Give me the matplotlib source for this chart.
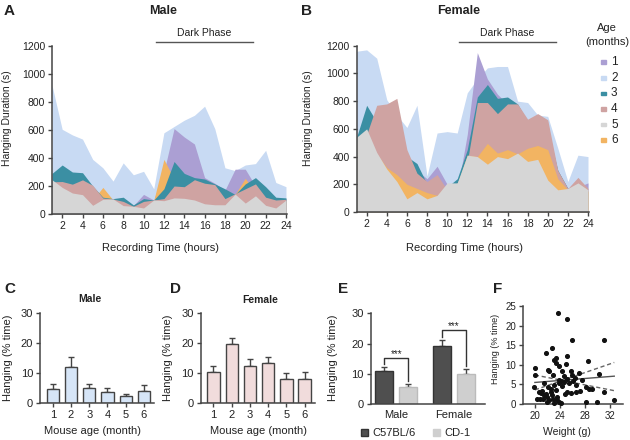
import numpy as np
import matplotlib
matplotlib.use('Agg')
import matplotlib.pyplot as plt
from matplotlib.patches import Rectangle, Patch

plt.rcParams['font.family'] = ['Liberation Sans', 'DejaVu Sans']

W, H = 630, 440

hours = list(range(1, 25))
ages = ['1', '2', '3', '4', '5', '6']
age_colors = {'1': '#ab9fd3', '2': '#c8daf3', '3': '#3b8fa3', '4': '#cfa3a2', '5': '#d6d6d6', '6': '#f2b462'}

# panel A, male, hanging duration (s) per hour
male_1 = [200, 200, 190, 180, 150, 110, 100, 100, 60, 140, 100, 300, 610, 550, 500, 260, 220, 170, 320, 320, 200, 150, 110, 110]
male_2 = [920, 605, 565, 535, 390, 330, 235, 365, 280, 305, 180, 580, 625, 670, 705, 770, 610, 330, 310, 350, 360, 455, 225, 195]
male_3 = [290, 350, 300, 295, 200, 120, 110, 120, 65, 110, 100, 180, 375, 290, 260, 250, 215, 180, 140, 215, 260, 195, 120, 115]
male_4 = [230, 232, 213, 244, 205, 114, 107, 90, 55, 90, 100, 110, 200, 195, 245, 220, 210, 110, 145, 180, 215, 120, 100, 105]
male_5 = [245, 190, 150, 138, 62, 105, 107, 60, 55, 43, 100, 95, 115, 112, 100, 73, 66, 66, 142, 78, 130, 62, 43, 100]
male_6 = [200, 180, 140, 130, 100, 190, 100, 55, 50, 40, 95, 390, 250, 280, 240, 150, 100, 100, 140, 255, 150, 90, 60, 95]

# panel B, female
female_1 = [400, 420, 400, 380, 350, 320, 300, 240, 330, 200, 150, 560, 1150, 960, 850, 780, 700, 600, 600, 550, 300, 170, 180, 210]
female_2 = [1160, 1170, 1110, 810, 700, 610, 770, 260, 570, 580, 570, 860, 960, 1040, 1050, 1050, 800, 790, 700, 690, 460, 220, 410, 400]
female_3 = [540, 770, 650, 600, 500, 400, 350, 200, 200, 180, 240, 450, 830, 920, 820, 830, 780, 650, 650, 600, 300, 170, 200, 150]
female_4 = [400, 560, 770, 780, 820, 450, 280, 220, 270, 160, 210, 360, 790, 790, 710, 780, 780, 670, 710, 665, 300, 170, 250, 170]
female_5 = [540, 600, 430, 310, 220, 95, 140, 95, 120, 210, 210, 410, 400, 345, 400, 385, 425, 365, 380, 230, 160, 170, 210, 160]
female_6 = [500, 550, 420, 320, 270, 200, 170, 140, 120, 200, 200, 410, 400, 495, 425, 450, 420, 460, 480, 450, 240, 160, 200, 150]

male_series = {'1': male_1, '2': male_2, '3': male_3, '4': male_4, '5': male_5, '6': male_6}
female_series = {'1': female_1, '2': female_2, '3': female_3, '4': female_4, '5': female_5, '6': female_6}

# panels C, D: % time hanging by mouse age
month = [1, 2, 3, 4, 5, 6]
male_pct = [4.5, 12.1, 5.0, 3.7, 2.35, 4.0]
male_err = [1.8, 3.2, 1.3, 1.1, 0.7, 2.0]
female_pct = [10.2, 19.7, 12.4, 13.4, 7.8, 7.8]
female_err = [2.1, 2.0, 2.2, 2.1, 2.1, 2.5]

# panel E: strains
sexes = ['Male', 'Female']
c57_pct = [11.0, 19.3]
c57_err = [1.1, 2.0]
cd1_pct = [5.5, 9.8]
cd1_err = [1.1, 1.9]

# panel F: weight vs hanging
weight = [23.7, 25.2, 25.9, 31.0, 22.8, 21.7, 25.2, 23.4, 23.1, 28.5, 23.3, 24.9, 23.9, 20.0, 22.1,
          24.3, 25.7, 22.3, 27.0, 20.0, 22.9, 26.0, 30.2, 24.6, 25.2, 26.4, 27.5, 23.9, 24.6, 25.5,
          26.5, 24.2, 28.1, 29.1, 28.6, 19.9, 21.5, 22.1, 20.7, 21.2, 22.6, 23.4, 25.2, 26.6, 27.2,
          31.1, 20.3, 20.8, 21.4, 22.0, 22.3, 22.9, 23.9, 24.2, 28.1, 29.9, 32.7, 23.1, 21.8, 22.7,
          23.6, 24.8, 21.0, 22.5, 23.0, 23.8, 26.1, 24.4, 21.3, 23.5, 22.0, 25.8]
hanging = [23.1, 21.8, 16.3, 16.2, 14.4, 13.1, 12.3, 11.8, 11.2, 10.9, 10.4, 10.2, 9.6, 9.1, 8.7,
           8.4, 8.4, 8.5, 7.8, 7.3, 7.4, 7.4, 7.6, 7.2, 6.5, 6.6, 6.1, 5.3, 5.5, 5.3,
           4.9, 5.8, 4.4, 3.9, 3.9, 4.3, 5.3, 4.3, 3.0, 3.3, 3.1, 3.5, 3.0, 3.0, 3.4,
           3.1, 1.3, 1.4, 2.3, 1.9, 1.0, 1.4, 0.6, 0.2, 0.5, 0.6, 1.0, 0.3, 2.6, 2.2,
           1.8, 2.5, 2.8, 3.8, 4.8, 6.0, 5.8, 4.6, 1.2, 0.9, 0.6, 2.7]
fit_w = [20, 32.7]
fit_mid = [5.5, 7.1]
fit_lo = [7.4, 3.4]
fit_hi = [3.6, 10.6]

AX = '#444444'
TXT = '#222222'

fig = plt.figure(figsize=(6.3, 4.4), dpi=100)


def px_axes(l, t, r, b):
    return fig.add_axes([l / W, 1 - b / H, (r - l) / W, (b - t) / H])


def ftext(x, y, s, **kw):
    kw.setdefault('color', TXT)
    fig.text(x / W, 1 - y / H, s, **kw)


def style(ax, fs):
    for s in ['top', 'right']:
        ax.spines[s].set_visible(False)
    for s in ['left', 'bottom']:
        ax.spines[s].set_color(AX)
        ax.spines[s].set_linewidth(1.1)
    ax.tick_params(direction='out', length=3, width=1, color=AX, labelcolor=TXT, labelsize=fs, pad=2)


def area_panel(ax, series, order):
    for a in order:
        ax.fill_between(hours, 0, series[a], color=age_colors[a], lw=0)
    ax.set_xlim(1, 24.1)
    ax.set_ylim(0, 1200)
    ax.set_xticks(range(2, 25, 2))
    ax.set_yticks(range(0, 1201, 200))
    style(ax, 7.5)
    ax.plot([11.2, 20.8], [1225, 1225], color='#555555', lw=1, clip_on=False)
    ax.text(16, 1290, 'Dark Phase', ha='center', va='center', fontsize=7.5, color=TXT)


# A
axA = px_axes(52, 46, 287, 214)
area_panel(axA, male_series, ['2', '1', '6', '3', '4', '5'])
ftext(4, 11, 'A', fontsize=11, fontweight='bold', va='center')
ftext(163, 11, 'Male', fontsize=9, fontweight='bold', ha='center', va='center')
ftext(7, 118, 'Hanging Duration (s)', fontsize=7.5, rotation=90, ha='center', va='center')
ftext(161, 248, 'Recording Time (hours)', fontsize=8, ha='center', va='center')

# B
axB = px_axes(356.6, 45.7, 589, 212)
area_panel(axB, female_series, ['2', '1', '3', '4', '6', '5'])
ftext(301, 11, 'B', fontsize=11, fontweight='bold', va='center')
ftext(459, 11, 'Female', fontsize=9, fontweight='bold', ha='center', va='center')
ftext(308, 118, 'Hanging Duration (s)', fontsize=7.5, rotation=90, ha='center', va='center')
ftext(465, 248, 'Recording Time (hours)', fontsize=8, ha='center', va='center')

# age legend
ftext(607, 28, 'Age', fontsize=8, ha='center', va='center')
ftext(607, 42, '(months)', fontsize=8, ha='center', va='center')
for i, a in enumerate(ages):
    y = 62.3 + i * 15.6
    fig.patches.append(Rectangle((600.5 / W, 1 - (y + 1.8) / H), 5.5 / W, 3.6 / H,
                                 transform=fig.transFigure, color=age_colors[a]))
    ftext(611, y, a, fontsize=8.5, va='center')


def bar_panel(ax, vals, errs, fc):
    ax.bar(month, vals, width=0.68, color=fc, edgecolor='#444444', lw=1, zorder=2)
    ax.errorbar(month, vals, yerr=[np.zeros(len(vals)), errs], fmt='none', ecolor='#444444',
                elinewidth=1, capsize=2.5, capthick=1, zorder=1)
    ax.set_xlim(0.3, 6.55)
    ax.set_ylim(0, 30)
    ax.set_xticks(month)
    ax.set_yticks([0, 10, 20, 30])
    style(ax, 8)


# C
axC = px_axes(40, 313.3, 154, 402.7)
bar_panel(axC, male_pct, male_err, '#d6e5f7')
ftext(4, 289, 'C', fontsize=11, fontweight='bold', va='center')
ftext(90, 299, 'Male', fontsize=7.5, fontweight='bold', ha='center', va='center')
ftext(8, 358, 'Hanging (% time)', fontsize=8, rotation=90, ha='center', va='center')
ftext(93, 431, 'Mouse age (month)', fontsize=8, ha='center', va='center')

# D
axD = px_axes(200.7, 313.3, 314.7, 402.7)
bar_panel(axD, female_pct, female_err, '#f1dcdc')
ftext(170, 289, 'D', fontsize=11, fontweight='bold', va='center')
ftext(260, 300, 'Female', fontsize=7.5, fontweight='bold', ha='center', va='center')
ftext(168, 358, 'Hanging (% time)', fontsize=8, rotation=90, ha='center', va='center')
ftext(258, 431, 'Mouse age (month)', fontsize=8, ha='center', va='center')

# E
axE = px_axes(370.7, 313.3, 485, 404)
gx = np.arange(len(sexes))
off, bw = 0.208, 0.31
axE.bar(gx - off, c57_pct, width=bw, color='#4f4f4f', edgecolor='#333333', lw=1, zorder=2)
axE.bar(gx + off, cd1_pct, width=bw, color='#cfcfcf', edgecolor='#bbbbbb', lw=1, zorder=2)
axE.errorbar(gx - off, c57_pct, yerr=[[0, 0], c57_err], fmt='none', ecolor='#444444',
             elinewidth=1, capsize=2.5, zorder=1)
axE.errorbar(gx + off, cd1_pct, yerr=[[0, 0], cd1_err], fmt='none', ecolor='#444444',
             elinewidth=1, capsize=2.5, zorder=1)
for i in range(len(sexes)):
    top_l = c57_pct[i] + c57_err[i] + 1.0
    top_r = cd1_pct[i] + cd1_err[i] + 0.9
    top = max(top_l, top_r) + 2.2
    axE.plot([i - off, i - off, i + off, i + off], [top_l, top, top, top_r], color='#333333', lw=1)
    axE.text(i, top + 0.2, '***', ha='center', va='baseline', fontsize=7, color=TXT)
axE.set_xlim(-0.444, 1.54)
axE.set_ylim(0, 30)
axE.set_xticks(gx)
axE.set_xticklabels(sexes)
axE.set_yticks([0, 10, 20, 30])
style(axE, 8)
axE.tick_params(axis='x', length=0, pad=4)
ftext(338, 289, 'E', fontsize=11, fontweight='bold', va='center')
ftext(333, 358, 'Hanging (% time)', fontsize=8, rotation=90, ha='center', va='center')
fig.legend(handles=[Patch(fc='#4f4f4f', ec='#333333'), Patch(fc='#cfcfcf', ec='#cfcfcf')],
           labels=['C57BL/6', 'CD-1'], loc='center', bbox_to_anchor=(416 / W, 1 - 433 / H),
           ncol=2, frameon=False, fontsize=8, handlelength=0.6, handleheight=0.6,
           handletextpad=0.4, columnspacing=1.6, labelcolor=TXT)

# F
axF = px_axes(523, 306, 623, 404)
axF.scatter(weight, hanging, s=7, color='#111111', zorder=3, clip_on=False)
axF.plot(fit_w, fit_mid, color='#555555', lw=1)
axF.plot(fit_w, fit_lo, color='#666666', lw=1, ls=(0, (3, 2)))
axF.plot(fit_w, fit_hi, color='#666666', lw=1, ls=(0, (3, 2)))
axF.set_xlim(18.1, 34.1)
axF.set_ylim(0, 25)
axF.set_xticks([20, 24, 28, 32])
axF.set_yticks([0, 5, 10, 15, 20, 25])
style(axF, 7)
ftext(493, 289, 'F', fontsize=11, fontweight='bold', va='center')
ftext(495, 349, 'Hanging (% time)', fontsize=6.5, rotation=90, ha='center', va='center')
ftext(567, 432, 'Weight (g)', fontsize=7.5, ha='center', va='center')

fig.savefig('out.png', dpi=100)
